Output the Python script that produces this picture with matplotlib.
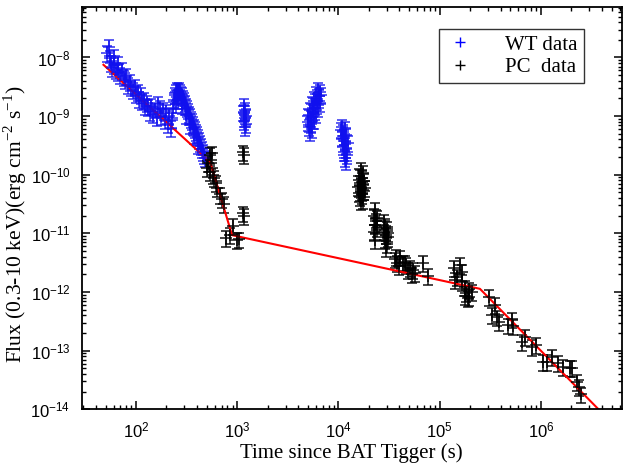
import numpy as np
import matplotlib
matplotlib.use('Agg')
import matplotlib.pyplot as plt
from matplotlib.lines import Line2D

plt.rcParams['font.family'] = 'Liberation Sans'
SERIF = 'Liberation Serif'

# WT mode (blue)
wt_time = [52, 54, 55, 57, 58, 60, 61, 64, 66, 67, 70, 72, 76, 78, 80, 84, 88, 90, 94, 98,
           101, 105, 108, 113, 115, 120, 123, 128, 131, 138, 141, 148, 154, 161, 165, 173,
           176, 185, 194, 198, 208, 212, 222, 227,
           232, 237, 243, 248, 254, 260, 266, 272, 278, 285, 291, 298, 305, 312, 319, 327,
           334, 342, 350, 358, 366, 374, 383, 392, 401, 410, 419, 429, 439, 449, 459, 470,
           481, 260, 285, 312, 342, 374, 410, 248,
           1165, 1194, 1165, 1220, 1194, 1165, 1220, 1194, 1165,
           6280, 6570, 6000, 6420, 5740, 6140, 6570, 5480, 5860, 6280, 5230, 5610, 6000,
           5000, 5360, 5740, 5000, 5360, 5110, 5480, 5230, 6720, 5610,
           10800, 11600, 11100, 11900, 10800, 11600, 12400, 11100, 11900, 11300, 12100,
           11600, 11900, 10500, 11300]
wt_flux = [1.2e-8, 1.5e-8, 9.8e-9, 8.2e-9, 6.6e-9, 1.05e-8, 7.5e-9, 6.2e-9, 7.7e-9, 5.7e-9,
           5.1e-9, 6.2e-9, 4.6e-9, 4.2e-9, 4.9e-9, 3.4e-9, 3.8e-9, 3.1e-9, 2.8e-9, 3.2e-9,
           2.4e-9, 2.6e-9, 2.0e-9, 2.3e-9, 1.8e-9, 1.9e-9, 1.5e-9, 1.7e-9, 1.45e-9, 1.2e-9,
           1.5e-9, 1.1e-9, 1.3e-9, 9.5e-10, 1.6e-9, 1.4e-9, 1.0e-9, 1.3e-9, 8.7e-10, 1.2e-9,
           7.4e-10, 1.0e-9, 6.3e-10, 8.7e-10,
           1.35e-9, 1.9e-9, 2.3e-9, 2.6e-9, 2.8e-9, 2.7e-9, 2.8e-9, 2.6e-9, 2.4e-9, 2.3e-9,
           2.1e-9, 1.9e-9, 1.7e-9, 1.5e-9, 1.4e-9, 1.25e-9, 1.1e-9, 1.0e-9, 9.0e-10, 8.3e-10,
           7.4e-10, 6.6e-10, 6.0e-10, 5.4e-10, 4.95e-10, 4.4e-10, 3.95e-10, 3.5e-10, 3.1e-10,
           2.75e-10, 2.45e-10, 2.2e-10, 1.95e-10, 1.9e-9, 1.56e-9, 1.05e-9, 7.1e-10, 4.8e-10,
           3.25e-10, 1.6e-9,
           1.5e-9, 1.28e-9, 1.13e-9, 1.0e-9, 9.4e-10, 8.3e-10, 7.4e-10, 6.5e-10, 1.17e-9,
           2.8e-9, 2.6e-9, 2.4e-9, 2.2e-9, 2.0e-9, 1.8e-9, 1.7e-9, 1.6e-9, 1.5e-9, 1.4e-9,
           1.28e-9, 1.17e-9, 1.07e-9, 1.0e-9, 9.4e-10, 8.7e-10, 7.9e-10, 7.3e-10, 6.5e-10,
           6.0e-10, 5.3e-10, 2.3e-9, 1.4e-9,
           6.6e-10, 6.1e-10, 5.4e-10, 4.8e-10, 4.3e-10, 3.8e-10, 3.5e-10, 3.1e-10, 2.75e-10,
           2.45e-10, 2.2e-10, 1.95e-10, 1.73e-10, 5.9e-10, 4.5e-10]

# PC mode (black)
pc_time = [539, 565, 515, 552, 504, 539, 578, 593, 622, 637, 676, 710, 745, 910, 840, 780,
           1000, 1040, 1140, 1170, 1140, 1170,
           16700, 17500, 16000, 17100, 17900, 16300, 17500, 15700, 16700, 17900, 16000,
           17100, 16300, 17500, 16700, 18300,
           23000, 22500, 23500, 23000, 24000, 22500, 23000, 24000,
           28900, 30300, 28200, 29600, 31000, 28900, 30300, 29600, 31000, 28200,
           36000, 40500, 43600, 47000, 51000, 54500, 57500, 68000, 76500, 38000, 45000,
           48500, 53500, 36800, 40000,
           1.4e5, 1.58e5, 1.5e5, 1.65e5, 1.78e5, 1.84e5, 1.97e5, 1.9e5, 2.1e5, 1.8e5,
           1.68e5, 1.97e5, 1.43e5,
           3.1e5, 3.5e5, 3.3e5, 3.9e5, 3.7e5, 4.7e5, 5.2e5, 5.3e5, 6.5e5, 6.9e5, 8.1e5,
           9.0e5, 1.05e6, 1.14e6, 1.3e6, 1.47e6, 1.65e6, 1.93e6, 2.05e6, 2.3e6, 2.5e6, 2.4e6]
pc_flux = [2.2e-10, 2.3e-10, 1.6e-10, 1.8e-10, 1.3e-10, 1.1e-10, 1.0e-10, 8.9e-11, 7.3e-11,
           6.0e-11, 4.6e-11, 3.8e-11, 3.2e-11, 1.35e-11, 9.5e-12, 8.3e-12, 7.7e-12, 7.9e-12,
           2.4e-10, 2.2e-10, 2.2e-11, 2.0e-11,
           1.2e-10, 1.08e-10, 9.6e-11, 8.9e-11, 7.9e-11, 7.3e-11, 6.8e-11, 6.2e-11, 5.8e-11,
           5.3e-11, 4.9e-11, 4.6e-11, 4.1e-11, 3.75e-11, 3.5e-11, 6.0e-11,
           2.5e-11, 2.0e-11, 1.65e-11, 1.4e-11, 1.25e-11, 1.05e-11, 7.7e-12, 1.85e-11,
           1.35e-11, 1.2e-11, 1.05e-11, 9.5e-12, 8.5e-12, 7.7e-12, 6.6e-12, 5.6e-12, 1.0e-11,
           1.6e-11,
           3.6e-12, 3.9e-12, 3.1e-12, 2.9e-12, 2.6e-12, 2.4e-12, 2.1e-12, 3.1e-12, 1.9e-12,
           3.1e-12, 3.2e-12, 2.4e-12, 2.0e-12, 4.0e-12, 2.8e-12,
           2.6e-12, 2.9e-12, 1.8e-12, 1.5e-12, 1.2e-12, 9.6e-13, 1.1e-12, 8.0e-13, 1.0e-12,
           8.5e-13, 2.2e-12, 8.2e-13, 1.6e-12,
           8.3e-13, 6.0e-13, 4.1e-13, 3.1e-13, 3.7e-13, 2.7e-13, 3.4e-13, 2.6e-13, 1.4e-13,
           1.7e-13, 1.15e-13, 1.25e-13, 6.4e-14, 6.4e-14, 7.8e-14, 6.2e-14, 5.3e-14, 5.1e-14,
           5.1e-14, 2.9e-14, 1.8e-14, 2.4e-14]

# broken power-law fit (red)
fit_time = [47.7, 537, 570, 889, 2.5e5, 3.7e6]
fit_flux = [7.5e-9, 1.66e-10, 1.21e-10, 9.3e-12, 1.13e-12, 1.0e-14]

WT_ERR = 0.3
PC_ERR = 0.3

fig = plt.figure(figsize=(6.23, 4.66), dpi=100)
ax = fig.add_axes([0.131, 0.122, 0.867, 0.864])

wt_t = np.array(wt_time)
wt_f = np.array(wt_flux)
pc_t = np.array(pc_time)
pc_f = np.array(pc_flux)

ax.errorbar(wt_t, wt_f, yerr=WT_ERR * wt_f, fmt='+', color='#1010ee', ms=9, mew=1.2,
            elinewidth=1.2, capsize=3.5, alpha=0.8)
ax.errorbar(pc_t, pc_f, yerr=PC_ERR * pc_f, fmt='+', color='black', ms=9, mew=1.2,
            elinewidth=1.2, capsize=3.5, alpha=0.85)
ax.plot(fit_time, fit_flux, color='red', lw=1.5)

ax.set_xscale('log')
ax.set_yscale('log')
ax.set_xlim(29, 6.3e6)
ax.set_ylim(1e-14, 7.4e-8)

ax.tick_params(which='both', direction='in', top=True, right=True, labelsize=12, pad=8)
ax.tick_params(which='major', length=6, width=1.1)
ax.tick_params(which='minor', length=3, width=1)
ax.xaxis.set_minor_locator(matplotlib.ticker.LogLocator(base=10, subs=np.arange(2, 10), numticks=20))
ax.yaxis.set_minor_locator(matplotlib.ticker.LogLocator(base=10, subs=np.arange(2, 10), numticks=20))
ax.yaxis.set_major_locator(matplotlib.ticker.LogLocator(base=10, numticks=20))
for s in ax.spines.values():
    s.set_linewidth(1.3)

ax.set_xlabel('Time since BAT Tigger (s)', family=SERIF, fontsize=15)
ax.xaxis.set_label_coords(0.5, -0.085)
ax.set_ylabel(r'Flux (0.3-10 keV)(erg cm$^{\mathregular{-2}}$ s$^{\mathregular{-1}}$)',
              family=SERIF, fontsize=15.5)
ax.yaxis.set_label_coords(-0.097, 0.46)

handles = [Line2D([], [], ls='none', marker='+', color='blue', ms=7),
           Line2D([], [], ls='none', marker='+', color='black', ms=7)]
leg = ax.legend(handles, ['WT data', 'PC  data'], loc='upper right',
                bbox_to_anchor=(0.93, 0.945), borderaxespad=0, frameon=True, fancybox=False,
                edgecolor='black', prop={'family': SERIF, 'size': 15},
                handlelength=1.5, handletextpad=1.4, borderpad=0.3, labelspacing=0.15)
leg.get_frame().set_linewidth(1)

fig.savefig('out.png', dpi=100)
